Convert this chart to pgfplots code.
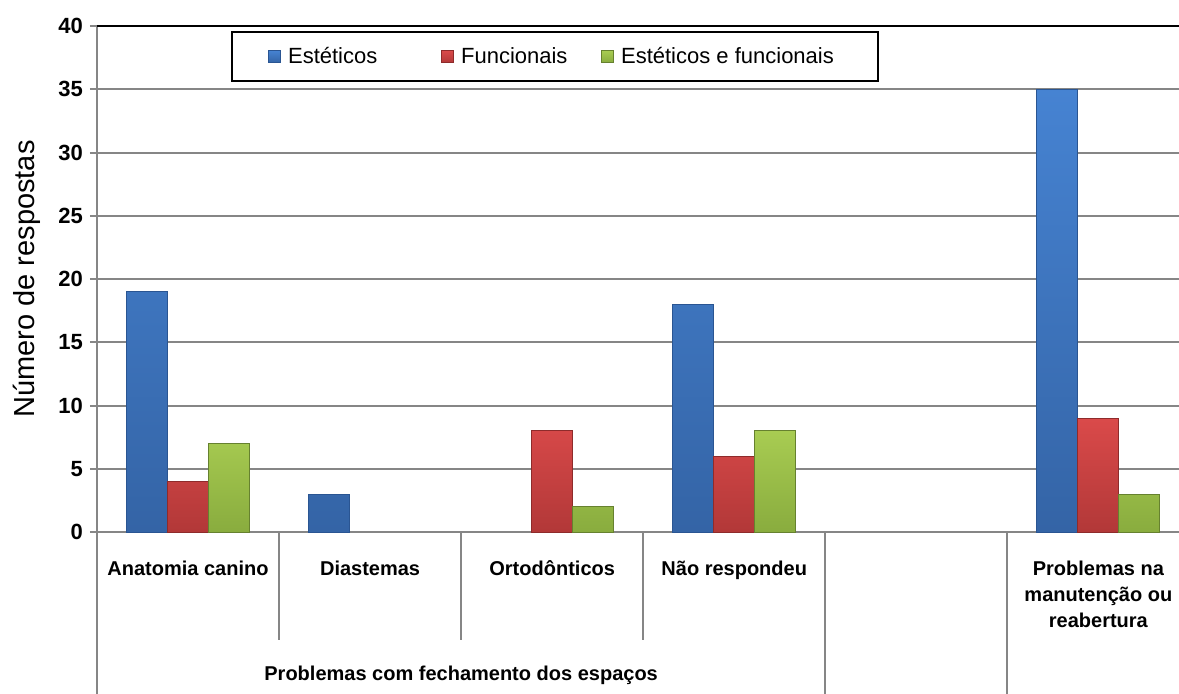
\documentclass[border=0pt]{standalone}
\usepackage{fontspec}
\setmainfont{Liberation Sans}
\usepackage{pgfplots}
\usepackage{pgfplotstable}
\pgfplotsset{compat=1.18}

\definecolor{gridgray}{HTML}{868686}
\definecolor{blueT}{HTML}{4683D2}
\definecolor{blueB}{HTML}{3464A6}
\definecolor{blueD}{HTML}{2A5592}
\definecolor{redT}{HTML}{DA4A4A}
\definecolor{redB}{HTML}{B23838}
\definecolor{redD}{HTML}{8E2B2B}
\definecolor{greenT}{HTML}{A8CC52}
\definecolor{greenB}{HTML}{89AC3E}
\definecolor{greenD}{HTML}{66812F}

% categories: 0 Anatomia canino, 1 Diastemas, 2 Ortodonticos, 3 Nao respondeu, 4 (vazio), 5 Manutencao
\pgfplotstableread{
x est func ef
0 19 4 7
1 3 nan nan
2 nan 8 2
3 18 6 8
5 35 9 3
}\dados

\begin{document}
\begin{tikzpicture}
\useasboundingbox (-48.5pt,-80.5pt) rectangle (541pt,266pt);
\begin{axis}[
  scale only axis,
  width=540.75pt, height=253pt,
  xmin=-0.5, xmax=5.44, ymin=0, ymax=40,
  clip=false,
  axis line style={draw=none},
  ytick={0,5,...,40},
  ytick pos=left,
  tick align=outside,
  major tick length=3.5pt,
  ytick style={gridgray, line width=1pt},
  ymajorgrids,
  grid style={gridgray, line width=1pt},
  xtick={0,1,2,3,5},
  xticklabels={Anatomia canino, Diastemas, Ortod\smash{ô}nticos, Não respondeu, {Problemas na\\manutenção ou\\reabertura}},
  xtick style={draw=none},
  xticklabel style={font=\fontsize{10}{13}\selectfont\bfseries, align=center, yshift=-7.5pt},
  yticklabel style={font=\fontsize{11}{13}\selectfont\bfseries},
  /pgf/number format/assume math mode=true,
  ybar=0pt, bar width=0.225,
  legend columns=3,
  legend style={at={(0.124,1)}, anchor=north west, yshift=-2.5pt,
    draw=black, line width=1pt, inner xsep=18pt, inner ysep=5.5pt,
    font=\fontsize{11}{13}\selectfont},
  legend image code/.code={\fill[#1] (0pt,-3pt) rectangle (6pt,3pt);},
]
% axis frame and category separators
\draw[gridgray, line width=1pt] (rel axis cs:0,0) -- (rel axis cs:1,0);
\draw[gridgray, line width=1pt] (rel axis cs:0,1) -- ([yshift=-81pt]rel axis cs:0,0);
\draw[gridgray, line width=1pt] (axis cs:0.5,0) -- ++(0pt,-54pt);
\draw[gridgray, line width=1pt] (axis cs:1.5,0) -- ++(0pt,-54pt);
\draw[gridgray, line width=1pt] (axis cs:2.5,0) -- ++(0pt,-54pt);
\draw[gridgray, line width=1pt] (axis cs:3.5,0) -- ++(0pt,-81pt);
\draw[gridgray, line width=1pt] (axis cs:4.5,0) -- ++(0pt,-81pt);
\draw[black, line width=1.2pt] (rel axis cs:0,1) -- (rel axis cs:1,1);

\addplot[fill=blueT, draw=blueD, line width=0.5pt,
  postaction={top color=blueT, bottom color=blueB}]
  table[x=x, y=est] {\dados};
\addlegendentry{\makebox[76pt][l]{\hspace{1.5pt}Estéticos}}
\addplot[fill=redT, draw=redD, line width=0.5pt,
  postaction={top color=redT, bottom color=redB}]
  table[x=x, y=func] {\dados};
\addlegendentry{\makebox[69.5pt][l]{\hspace{1.5pt}Funcionais}}
\addplot[fill=greenT, draw=greenD, line width=0.5pt,
  postaction={top color=greenT, bottom color=greenB}]
  table[x=x, y=ef] {\dados};
\addlegendentry{\makebox[110pt][l]{\hspace{1.5pt}Estéticos e funcionais}}

\node[rotate=90, font=\fontsize{14.5}{16}\selectfont] at ([xshift=-35.25pt]rel axis cs:0,0.5) {Número de respostas};
\node[font=\fontsize{10}{12}\selectfont\bfseries] at ([yshift=-71.5pt]axis cs:1.5,0) {Problemas com fechamento dos espaços};
\end{axis}
\end{tikzpicture}
\end{document}
